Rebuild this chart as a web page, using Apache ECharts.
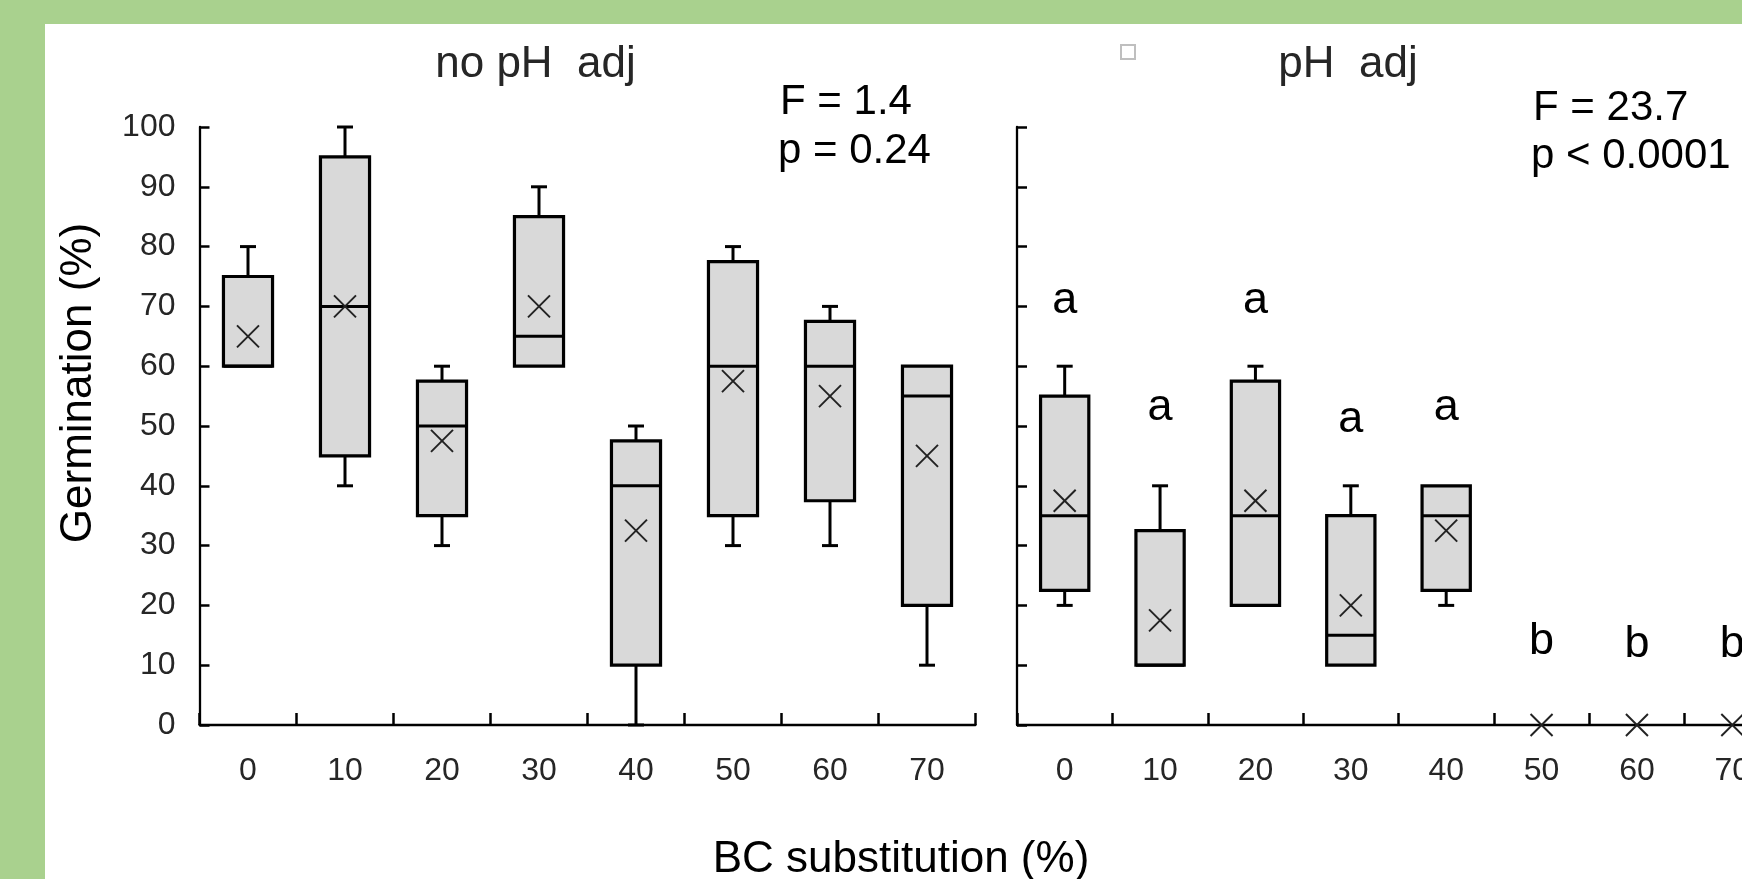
<!DOCTYPE html>
<html>
<head>
<meta charset="utf-8">
<script src="https://cdn.jsdelivr.net/npm/echarts@6/dist/echarts.min.js"></script>
<style>
  html, body { margin: 0; padding: 0; background: #a9d18e; overflow: hidden; }
  #panel { position: absolute; left: 45px; top: 24px; right: 0; bottom: 0; background: #fff; }
  #chart { position: absolute; left: 0; top: 0; width: 1742px; height: 879px; }
</style>
</head>
<body>
<div id="panel"></div>
<div id="chart"></div>
<script>
// categories: BC substitution (%)
const categories = ["0", "10", "20", "30", "40", "50", "60", "70"];

// box data: [min, Q1, median, Q3, max]
const noAdjBox = [
  [60, 60, 60, 75, 80],
  [40, 45, 70, 95, 100],
  [30, 35, 50, 57.5, 60],
  [60, 60, 65, 85, 90],
  [0, 10, 40, 47.5, 50],
  [30, 35, 60, 77.5, 80],
  [30, 37.5, 60, 67.5, 70],
  [10, 20, 55, 60, 60]
];
const noAdjMean = [65, 70, 47.5, 70, 32.5, 57.5, 55, 45];

const adjBox = [
  [20, 22.5, 35, 55, 60],
  [10, 10, 10, 32.5, 40],
  [20, 20, 35, 57.5, 60],
  [10, 10, 15, 35, 40],
  [20, 22.5, 35, 40, 40],
  [0, 0, 0, 0, 0],
  [0, 0, 0, 0, 0],
  [0, 0, 0, 0, 0]
];
const adjMean = [37.5, 17.5, 37.5, 20, 32.5, 0, 0, 0];
// significance letters and the height (%) at which each one sits
const adjLetters = ["a", "a", "a", "a", "a", "b", "b", "b"];
const adjLetterAt = [71, 53, 71, 51, 53, 14, 13.5, 13.5];

const panelTitles = ["no pH  adj", "pH  adj"];
const statsNoAdj = ["F = 1.4", "p = 0.24"];
const statsAdj = ["F = 23.7", "p < 0.0001"];

const FONT = '"Liberation Sans", Arial, sans-serif';

const chart = echarts.init(document.getElementById("chart"));

// rows for the custom series: [catIndex, min, q1, med, q3, max, mean]
const toRows = (box, mean) => box.map((b, i) => [i, ...b, mean[i]]);

function makeRender(letters, letterAt) {
  return function (params, api) {
    const cat = api.value(0);
    const v = [1, 2, 3, 4, 5].map((i) => api.value(i));
    const mean = api.value(6);
    const x = api.coord([cat, 0])[0];
    const y = (val) => api.coord([cat, val])[1];
    const half = api.size([1, 0])[0] * 0.253;
    const cap = 8;
    const ln = { stroke: "#000", lineWidth: 3 };
    const kids = [];

    // whiskers
    if (v[4] > v[3]) {
      kids.push({ type: "line", shape: { x1: x, y1: y(v[3]), x2: x, y2: y(v[4]) }, style: ln });
      kids.push({ type: "line", shape: { x1: x - cap, y1: y(v[4]), x2: x + cap, y2: y(v[4]) }, style: ln });
    }
    if (v[1] > v[0]) {
      kids.push({ type: "line", shape: { x1: x, y1: y(v[1]), x2: x, y2: y(v[0]) }, style: ln });
      kids.push({ type: "line", shape: { x1: x - cap, y1: y(v[0]), x2: x + cap, y2: y(v[0]) }, style: ln });
    }
    // box
    if (v[3] > v[1]) {
      kids.push({
        type: "rect",
        shape: { x: x - half, y: y(v[3]), width: half * 2, height: y(v[1]) - y(v[3]) },
        style: { fill: "#d9d9d9", stroke: "#000", lineWidth: 3.2 }
      });
      kids.push({ type: "line", shape: { x1: x - half, y1: y(v[2]), x2: x + half, y2: y(v[2]) }, style: ln });
    }
    // mean marker (x)
    const m = 11, ym = y(mean);
    const xs = { stroke: "#222", lineWidth: 1.9 };
    kids.push({ type: "line", shape: { x1: x - m, y1: ym - m, x2: x + m, y2: ym + m }, style: xs });
    kids.push({ type: "line", shape: { x1: x - m, y1: ym + m, x2: x + m, y2: ym - m }, style: xs });

    // significance letters
    if (letters) {
      kids.push({
        type: "text",
        x: x,
        y: y(letterAt[params.dataIndex]),
        style: {
          text: letters[params.dataIndex],
          font: "45px " + FONT,
          fill: "#000",
          align: "center",
          verticalAlign: "middle"
        }
      });
    }
    return { type: "group", children: kids };
  };
}

const axisLine = { show: true, lineStyle: { color: "#000", width: 2.3 } };

function xAxisFor(gridIndex) {
  return {
    gridIndex,
    type: "category",
    data: categories,
    boundaryGap: true,
    axisLine,
    axisTick: { show: true, inside: true, length: 12, lineStyle: { color: "#000", width: 2.5 } },
    axisLabel: { show: true, color: "#262626", fontSize: 32, fontFamily: FONT, margin: 30, interval: 0 },
    splitLine: { show: false }
  };
}

function yAxisFor(gridIndex, showLabels) {
  return {
    gridIndex,
    type: "value",
    min: 0,
    max: 100,
    interval: 10,
    axisLine,
    axisTick: { show: true, inside: true, length: 10, lineStyle: { color: "#000", width: 2.5 } },
    axisLabel: { show: showLabels, color: "#262626", fontSize: 32, fontFamily: FONT, margin: 24 },
    splitLine: { show: false }
  };
}

function textEl(text, x, y, size, color, align, rotation) {
  return {
    type: "text",
    x, y,
    rotation: rotation || 0,
    style: {
      text,
      font: size + "px " + FONT,
      fill: color,
      align: align,
      textAlign: align,
      verticalAlign: "middle",
      textVerticalAlign: "middle"
    }
  };
}

const option = {
  animation: false,
  backgroundColor: "transparent",
  grid: [
    { left: 199.5, top: 127, width: 776, height: 598, containLabel: false, outerBoundsMode: "none" },
    { left: 1017, top: 127, width: 763, height: 598, containLabel: false, outerBoundsMode: "none" }
  ],
  xAxis: [xAxisFor(0), xAxisFor(1)],
  yAxis: [yAxisFor(0, true), yAxisFor(1, false)],
  series: [
    {
      type: "custom",
      xAxisIndex: 0,
      yAxisIndex: 0,
      clip: false,
      renderItem: makeRender(null, null),
      data: toRows(noAdjBox, noAdjMean)
    },
    {
      type: "custom",
      xAxisIndex: 1,
      yAxisIndex: 1,
      clip: false,
      renderItem: makeRender(adjLetters, adjLetterAt),
      data: toRows(adjBox, adjMean)
    }
  ],
  graphic: [
    textEl(panelTitles[0], 535.5, 64.8, 44, "#262626", "center"),
    textEl(panelTitles[1], 1348, 64.8, 44, "#262626", "center"),
    textEl(statsNoAdj[0], 780, 102.7, 42, "#000", "left"),
    textEl(statsNoAdj[1], 778, 151, 42, "#000", "left"),
    textEl(statsAdj[0], 1533, 108, 42, "#000", "left"),
    textEl(statsAdj[1], 1531, 156, 42, "#000", "left"),
    textEl("BC substitution (%)", 901, 859.8, 44, "#000", "center"),
    textEl("Germination (%)", 78.8, 383, 44, "#000", "center", Math.PI / 2),
    {
      type: "rect",
      shape: { x: 1121, y: 45, width: 14, height: 14 },
      style: { fill: "#fff", stroke: "#bfbfbf", lineWidth: 2 }
    }
  ]
};

chart.setOption(option);
</script>
</body>
</html>
